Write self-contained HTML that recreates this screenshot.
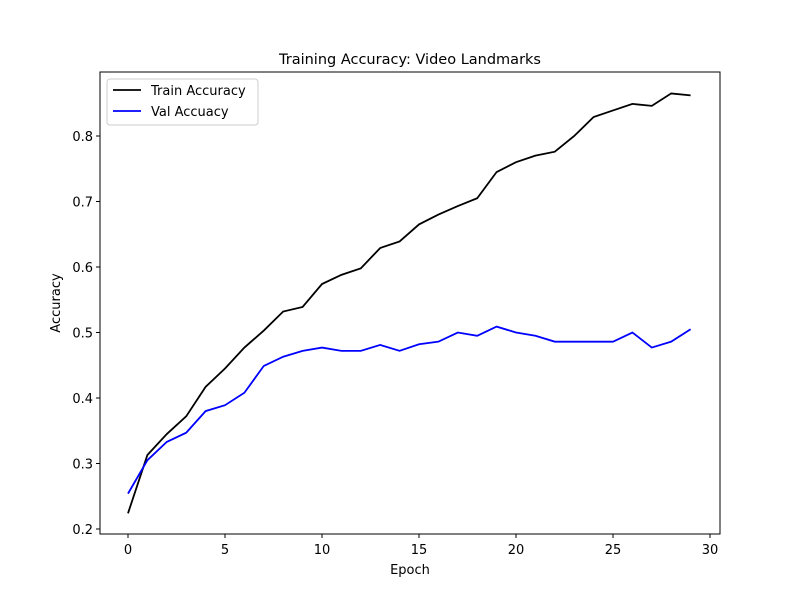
<!DOCTYPE html>
<html><head><meta charset="utf-8"><style>
body{margin:0;background:#fff;}
svg{display:block;font-family:"DejaVu Sans","Liberation Sans",sans-serif;}
</style></head><body>
<svg id="chart" width="800" height="600" viewBox="0 0 800 600">
<rect width="800" height="600" fill="#fff"/>
<text x="410" y="64" text-anchor="middle" font-size="14.5">Training Accuracy: Video Landmarks</text>
<g id="axes"></g>
<g id="lines"></g>
<rect x="100" y="72" width="620" height="462" fill="none" stroke="#000" stroke-width="1"/>
<g>
<rect x="107" y="79" width="151" height="46" rx="3" fill="#fff" stroke="#ccc"/>
<line x1="113" y1="90" x2="141" y2="90" stroke="#000" stroke-width="1.8"/>
<text x="151" y="95" font-size="13">Train Accuracy</text>
<line x1="113" y1="111" x2="141" y2="111" stroke="#00f" stroke-width="1.8"/>
<text x="151" y="116" font-size="13">Val Accuacy</text>
</g>
<text x="410" y="574" text-anchor="middle" font-size="13">Epoch</text>
<text x="60" y="303" text-anchor="middle" font-size="13" transform="rotate(-90 60 303)">Accuracy</text>
</svg>
<script>
const epochs=[0,1,2,3,4,5,6,7,8,9,10,11,12,13,14,15,16,17,18,19,20,21,22,23,24,25,26,27,28,29];
const trainAcc=[0.224,0.313,0.345,0.372,0.417,0.445,0.477,0.503,0.532,0.539,0.574,0.588,0.598,0.629,0.639,0.665,0.680,0.693,0.705,0.745,0.760,0.770,0.776,0.800,0.829,0.839,0.849,0.846,0.865,0.862];
const valAcc=[0.254,0.305,0.333,0.347,0.380,0.389,0.408,0.449,0.463,0.472,0.477,0.472,0.472,0.481,0.472,0.482,0.486,0.500,0.495,0.509,0.500,0.495,0.486,0.486,0.486,0.486,0.500,0.477,0.486,0.505];
const xTicks=[0,5,10,15,20,25,30];
const yTicks=[0.2,0.3,0.4,0.5,0.6,0.7,0.8];
const NS="http://www.w3.org/2000/svg";
function xs(v){return 128+v*19.4;}
function ys(v){return 529-(v-0.2)*655;}
const axes=document.getElementById('axes');
xTicks.forEach(t=>{
 const l=document.createElementNS(NS,'line');
 l.setAttribute('x1',xs(t));l.setAttribute('x2',xs(t));l.setAttribute('y1',534);l.setAttribute('y2',538);l.setAttribute('stroke','#000');
 
 
 axes.appendChild(l);
 const tx=document.createElementNS(NS,'text');
 tx.setAttribute('x',xs(t));tx.setAttribute('y',554);tx.setAttribute('text-anchor','middle');tx.setAttribute('font-size','13');tx.textContent=t;
 
 
 axes.appendChild(tx);
});
yTicks.forEach(t=>{
 const l=document.createElementNS(NS,'line');
 l.setAttribute('x1',96);l.setAttribute('x2',100);l.setAttribute('y1',ys(t));l.setAttribute('y2',ys(t));l.setAttribute('stroke','#000');
 
 
 axes.appendChild(l);
 const tx=document.createElementNS(NS,'text');
 tx.setAttribute('x',93);tx.setAttribute('y',ys(t)+5);tx.setAttribute('text-anchor','end');tx.setAttribute('font-size','13');tx.textContent=t.toFixed(1);
 
 
 axes.appendChild(tx);
});
const lines=document.getElementById('lines');
function draw(vals,color,name){
 const p=document.createElementNS(NS,'polyline');
 p.setAttribute('points',vals.map((v,i)=>xs(epochs[i])+','+ys(v)).join(' '));
 p.setAttribute('fill','none');p.setAttribute('stroke',color);p.setAttribute('stroke-width','1.8');
 
 
 lines.appendChild(p);
}
draw(trainAcc,'#000','train-accuracy-line');
draw(valAcc,'#00f','val-accuracy-line');
</script>
</body></html>
